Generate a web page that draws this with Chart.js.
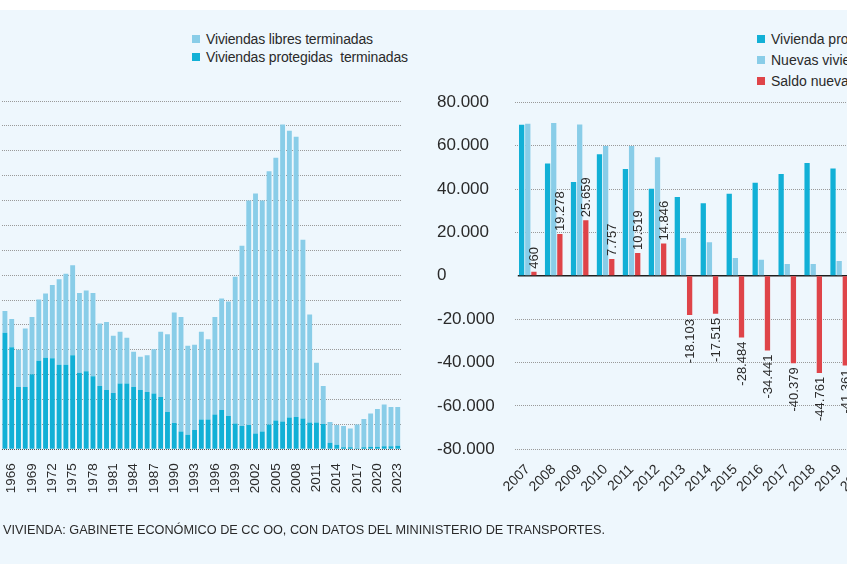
<!DOCTYPE html>
<html><head><meta charset="utf-8">
<script src="https://cdn.jsdelivr.net/npm/chart.js@4.4.1/dist/chart.umd.min.js"></script>
<style>
html,body{margin:0;padding:0;width:847px;height:564px;overflow:hidden;background:#fff;font-family:"Liberation Sans",Arial,sans-serif;color:#2a2a2a}
#panel{position:absolute;left:0;top:10px;width:847px;height:554px;background:#eef7fd}
.li{position:absolute;height:18px;line-height:18px;display:flex;align-items:center;font-size:14px;letter-spacing:-0.15px;white-space:nowrap}
.li.r{letter-spacing:0}
.sq{display:inline-block;width:8px;height:8px;margin-right:6px;flex:none}
#src{position:absolute;left:3px;top:522px;line-height:16px;font-size:12.7px;white-space:nowrap}
canvas{position:absolute;top:0}
</style></head>
<body>
<div id="panel"></div>
<div class="li" style="left:192px;top:30px"><span class="sq" style="background:#89cde8"></span>Viviendas libres terminadas</div>
<div class="li" style="left:192px;top:48px"><span class="sq" style="background:#12b0d6"></span>Viviendas protegidas&nbsp; terminadas</div>
<div class="li r" style="left:757px;top:30px"><span class="sq" style="background:#12b0d6"></span>Vivienda protegida terminada</div>
<div class="li r" style="left:757px;top:51px"><span class="sq" style="background:#89cde8"></span>Nuevas viviendas libres</div>
<div class="li r" style="left:757px;top:72px"><span class="sq" style="background:#df4449"></span>Saldo nuevas viviendas</div>
<canvas id="c1" width="421" height="564" style="left:-1px"></canvas>
<canvas id="c2" width="463" height="564" style="left:437px"></canvas>
<div id="src">VIVIENDA: GABINETE ECONÓMICO DE CC OO, CON DATOS DEL MININISTERIO DE TRANSPORTES.</div>
<script>
// ---- Left chart data (viviendas terminadas) ----
const yearsL = ['1965','1966','1967','1968','1969','1970','1971','1972','1973','1974','1975','1976','1977','1978','1979','1980','1981','1982','1983','1984','1985','1986','1987','1988','1989','1990','1991','1992','1993','1994','1995','1996','1997','1998','1999','2000','2001','2002','2003','2004','2005','2006','2007','2008','2009','2010','2011','2012','2013','2014','2015','2016','2017','2018','2019','2020','2021','2022','2023'];
const protegidas = [234000,205000,125000,125000,151000,178000,184000,183000,170000,170000,189000,154000,157000,147000,127000,119000,113000,132000,132000,125000,119000,115000,112000,105000,75000,53000,36000,29000,39000,60000,60000,70000,79000,67000,52000,47000,49000,32000,36000,50000,58000,56000,64000,65000,62000,54000,54000,51000,13000,9000,4000,4000,2000,4000,5000,5000,6000,6000,7000];
const libres = [44000,57000,75000,118000,115000,123000,129000,147000,172000,183000,181000,160000,162000,167000,126000,137000,115000,104000,92000,71000,67000,74000,89000,131000,156000,222000,230000,179000,171000,176000,161000,196000,224000,230000,295000,362000,451000,482000,464000,509000,528000,597000,576000,563000,359000,217000,120000,76000,42000,40000,43000,38000,48000,57000,67000,76000,84000,79000,78000];

// ---- Right chart data ----
const yearsR = ['2007','2008','2009','2010','2011','2012','2013','2014','2015','2016','2017','2018','2019','2020'];
const viviendaProtegida = [69700,51800,43200,56100,49300,40100,36300,33500,37800,42900,46900,52000,49500,null];
const nuevasViviendas = [70100,70500,69800,59900,59900,54700,17400,15500,8200,7400,5400,5400,6800,null];
const saldo = [460,19278,25659,7757,10519,14846,-18103,-17515,-28484,-34441,-40379,-44761,-41361,null];

const C_LIGHT = '#89cde8', C_DARK = '#12b0d6', C_RED = '#df4449';
const FONT = '"Liberation Sans", Arial, sans-serif';
Chart.defaults.font.family = FONT;
Chart.defaults.color = '#2a2a2a';

function fmt(v){
  const s = Math.abs(Math.round(v)).toString().replace(/\B(?=(\d{3})+(?!\d))/g,'.');
  return (v < 0 ? '-' : '') + s;
}

new Chart(document.getElementById('c1'), {
  type: 'bar',
  data: { labels: yearsL, datasets: [
    { label: 'Viviendas protegidas terminadas', data: protegidas, backgroundColor: C_DARK, stack: 's' },
    { label: 'Viviendas libres terminadas', data: libres, backgroundColor: C_LIGHT, stack: 's' }
  ]},
  options: {
    responsive: false, animation: false,
    layout: { autoPadding: false, padding: { left: 0.3, right: 10.6, top: 101, bottom: 0 } },
    plugins: { legend: { display: false }, tooltip: { enabled: false } },
    datasets: { bar: { categoryPercentage: 1, barPercentage: 0.72 } },
    scales: {
      x: { stacked: true, grid: { display: false }, border: { display: false },
        ticks: { autoSkip: false, minRotation: 90, maxRotation: 90, padding: 6, color: '#2a2a2a', font: { size: 13.5 },
          callback: function(v){ const l = this.getLabelForValue(v); return ((+l - 1966) % 3 === 0) ? l : ''; } },
        afterFit: s => { s.height = 114.7; } },
      y: { stacked: true, min: 0, max: 700000,
        ticks: { display: false, stepSize: 50000 },
        grid: { drawTicks: false, color: c => (c.tick && c.tick.value === 0) ? '#555' : '#9a9a9a' },
        border: { display: false, dash: [1, 1] },
        afterFit: s => { s.width = 0; } }
    }
  }
});

const extras = {
  id: 'extras',
  beforeDatasetsDraw(chart){
    const { ctx, chartArea: a, scales: { y } } = chart;
    const py = y.getPixelForValue(0);
    ctx.save(); ctx.strokeStyle = '#1e1e1e'; ctx.lineWidth = 1.6;
    ctx.beginPath(); ctx.moveTo(a.left + 3, py); ctx.lineTo(a.right, py); ctx.stroke(); ctx.restore();
  },
  afterDatasetsDraw(chart){
    const { ctx } = chart;
    const meta = chart.getDatasetMeta(2);
    ctx.save();
    ctx.fillStyle = '#2a2a2a';
    ctx.font = '13px ' + FONT;
    ctx.textBaseline = 'middle';
    meta.data.forEach((el, i) => {
      const v = saldo[i];
      if (v === null || v === undefined) return;
      ctx.save();
      if (v >= 0) { ctx.translate(el.x + 1, el.y - 3); ctx.rotate(-Math.PI/2); ctx.textAlign = 'left'; }
      else { ctx.translate(el.x + 1, el.y + 4); ctx.rotate(-Math.PI/2); ctx.textAlign = 'right'; }
      ctx.fillText(fmt(v), 0, 0);
      ctx.restore();
    });
    ctx.restore();
  }
};

new Chart(document.getElementById('c2'), {
  type: 'bar',
  data: { labels: yearsR, datasets: [
    { label: 'Vivienda protegida', data: viviendaProtegida, backgroundColor: C_DARK },
    { label: 'Nuevas viviendas', data: nuevasViviendas, backgroundColor: C_LIGHT },
    { label: 'Saldo nuevas viviendas', data: saldo, backgroundColor: C_RED, minBarLength: 4 }
  ]},
  options: {
    responsive: false, animation: false,
    layout: { autoPadding: false, padding: { left: 0, right: 21.9, top: 102.3, bottom: 0 } },
    plugins: { legend: { display: false }, tooltip: { enabled: false } },
    datasets: { bar: { categoryPercentage: 0.71, barPercentage: 0.86 } },
    scales: {
      x: { grid: { display: false }, border: { display: false },
        ticks: { autoSkip: false, minRotation: 45, maxRotation: 45, padding: 4, color: '#2a2a2a', font: { size: 14 } },
        afterFit: s => { s.height = 114.7; } },
      y: { min: -80000, max: 80000,
        ticks: { stepSize: 20000, crossAlign: 'far', padding: 0, color: '#2a2a2a', font: { size: 17 }, callback: v => fmt(v) },
        grid: { drawTicks: false, color: c => (c.tick && c.tick.value === 0) ? 'rgba(0,0,0,0)' : '#9a9a9a' },
        border: { display: false, dash: [1, 1] },
        afterFit: s => { s.width = 77.8; } }
    }
  },
  plugins: [extras]
});
</script>
</body></html>
